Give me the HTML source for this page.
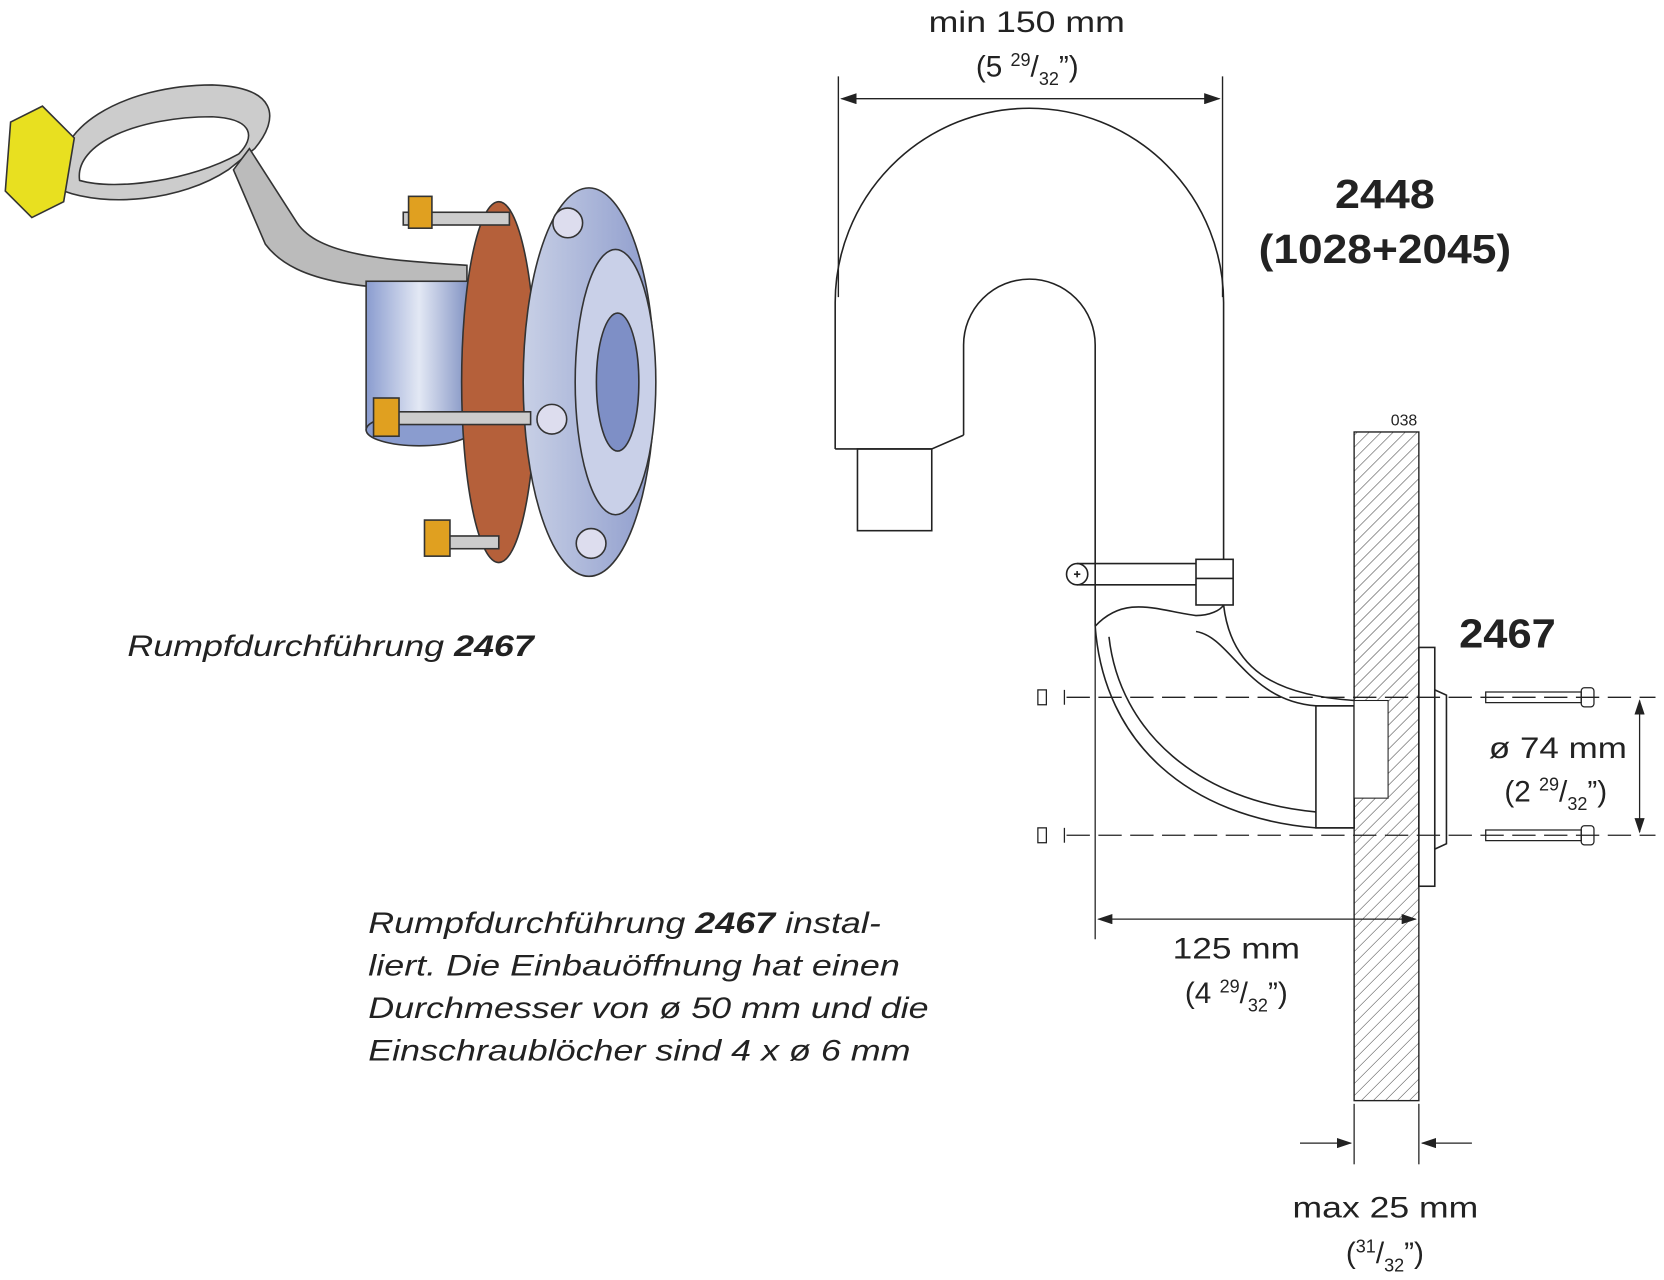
<!DOCTYPE html>
<html><head><meta charset="utf-8"><style>
html,body{margin:0;padding:0;background:#fff;}
svg{display:block;}
text{font-family:"Liberation Sans",sans-serif;fill:#222;}
</style></head><body>
<svg width="1664" height="1280" viewBox="0 0 1568 1206" preserveAspectRatio="none" xmlns="http://www.w3.org/2000/svg">
<defs>
<pattern id="h" width="8" height="8" patternUnits="userSpaceOnUse" patternTransform="rotate(45)">
<line x1="0" y1="0" x2="0" y2="8" stroke="#444" stroke-width="1"/></pattern>
<marker id="a" markerWidth="12" markerHeight="8" refX="11" refY="4" orient="auto"><path d="M0,0 L12,4 L0,8 z" fill="#222"/></marker>
<marker id="b" markerWidth="12" markerHeight="8" refX="1" refY="4" orient="auto"><path d="M12,0 L0,4 L12,8 z" fill="#222"/></marker>
<linearGradient id="g1" x1="0" x2="1"><stop offset="0" stop-color="#8a9ccf"/><stop offset="0.5" stop-color="#e3e8f4"/><stop offset="1" stop-color="#7a8cbf"/></linearGradient>
<linearGradient id="g2" x1="0" x2="1"><stop offset="0" stop-color="#c8d0e6"/><stop offset="1" stop-color="#8e9ccc"/></linearGradient>
</defs>

<g stroke="#333" stroke-width="1.5">
<path d="M60,180 C40,120 120,80 200,80 C260,82 265,110 240,140 L215,160 C170,190 100,195 60,180 Z" fill="#ccc"/>
<path d="M75,170 C70,135 130,110 200,110 C240,112 240,130 225,145 C180,170 110,180 75,170 Z" fill="#fff"/>
<path d="M235,140 L280,210 C300,240 360,245 440,250 L440,275 C350,272 280,270 250,230 L220,160 Z" fill="#bbb"/>
<path d="M10,115 L40,100 L70,130 L60,190 L30,205 L5,180 Z" fill="#e8e020"/>
<rect x="345" y="265" width="100" height="140" fill="url(#g1)"/>
<ellipse cx="395" cy="405" rx="50" ry="15" fill="#8a9ccf"/>
<ellipse cx="470" cy="360" rx="35" ry="170" fill="#b5603a"/>
<ellipse cx="555" cy="360" rx="62" ry="183" fill="url(#g2)"/>
<ellipse cx="580" cy="360" rx="38" ry="125" fill="#c9d0e8"/>
<ellipse cx="582" cy="360" rx="20" ry="65" fill="#7e8fc6"/>
<circle cx="535" cy="210" r="14" fill="#dde"/>
<circle cx="520" cy="395" r="14" fill="#dde"/>
<circle cx="557" cy="512" r="14" fill="#dde"/>
<g fill="#ccc"><rect x="380" y="200" width="100" height="12"/><rect x="370" y="388" width="130" height="12"/><rect x="410" y="505" width="60" height="12"/></g>
<g fill="#e0a020"><rect x="385" y="185" width="22" height="30"/><rect x="352" y="375" width="24" height="36"/><rect x="400" y="490" width="24" height="34"/></g>
</g>

<g font-style="italic" font-size="28">
<text x="120" y="618" textLength="383" lengthAdjust="spacingAndGlyphs">Rumpfdurchführung <tspan font-weight="bold">2467</tspan></text>
<text x="347" y="879" textLength="483" lengthAdjust="spacingAndGlyphs">Rumpfdurchführung <tspan font-weight="bold">2467</tspan> instal-</text>
<text x="347" y="919" textLength="501" lengthAdjust="spacingAndGlyphs">liert. Die Einbauöffnung hat einen</text>
<text x="347" y="959" textLength="528" lengthAdjust="spacingAndGlyphs">Durchmesser von ø 50 mm und die</text>
<text x="347" y="999" textLength="511" lengthAdjust="spacingAndGlyphs">Einschraublöcher sind 4 x ø 6 mm</text>
</g>

<g stroke="#222" stroke-width="1.3" fill="none">
<line x1="790" y1="72" x2="790" y2="280"/>
<line x1="1152" y1="72" x2="1152" y2="280"/>
<line x1="793" y1="93" x2="1149" y2="93" marker-start="url(#b)" marker-end="url(#a)"/>
</g>
<text x="875" y="30" font-size="28" textLength="185" lengthAdjust="spacingAndGlyphs">min 150 mm</text>
<text x="968" y="72" font-size="28" text-anchor="middle">(5 <tspan font-size="17" dy="-10">29</tspan><tspan dy="10">/</tspan><tspan font-size="17" dy="8">32</tspan><tspan dy="-8">”)</tspan></text>

<text x="1258" y="196" font-size="38" font-weight="bold" textLength="94" lengthAdjust="spacingAndGlyphs">2448</text>
<text x="1186" y="248" font-size="38" font-weight="bold" textLength="238" lengthAdjust="spacingAndGlyphs">(1028+2045)</text>

<g stroke="#222" stroke-width="1.5" fill="none">
<path d="M787,423 L787,285 A183,183 0 0 1 1153,285 L1153,527"/>
<path d="M908,410 L908,325 A62,62 0 0 1 1032,325 L1032,590"/>
<path d="M787,423 L878,423 L908,410"/>
<rect x="808" y="423" width="70" height="77"/>
<circle cx="1015" cy="541" r="10"/>
<line x1="1012" y1="541" x2="1018" y2="541"/><line x1="1015" y1="538" x2="1015" y2="544"/>
<path d="M1015,531 L1127,531 M1015,551 L1127,551"/>
<rect x="1127" y="527" width="35" height="43"/>
<line x1="1127" y1="545" x2="1162" y2="545"/>
<path d="M1032,590 C1060,560 1090,575 1127,580 C1140,580 1150,575 1153,570"/>
<path d="M1032,590 C1040,700 1120,770 1240,780 L1276,780"/>
<path d="M1045,600 C1055,690 1130,755 1240,765"/>
<path d="M1127,595 C1160,600 1175,660 1240,665 L1276,665"/>
<path d="M1153,570 C1160,630 1200,655 1276,660"/>
<rect x="1240" y="665" width="36" height="115"/>
</g>

<rect x="1276" y="407" width="61" height="630" fill="url(#h)" stroke="#222" stroke-width="1.3"/>
<rect x="1276" y="660" width="32" height="92" fill="#fff" stroke="#222" stroke-width="1"/>
<text x="1323" y="401" font-size="15" text-anchor="middle">038</text>
<g stroke="#222" stroke-width="1.5" fill="#fff">
<rect x="1337" y="610" width="15" height="225"/>
<path d="M1352,650 L1363,655 L1363,795 L1352,800 Z"/>
</g>
<text x="1375" y="610" font-size="38" font-weight="bold" textLength="91" lengthAdjust="spacingAndGlyphs">2467</text>

<g stroke="#222" stroke-width="1.2" fill="none">
<line x1="1005" y1="657" x2="1560" y2="657" stroke-dasharray="22,8"/>
<line x1="1005" y1="787" x2="1560" y2="787" stroke-dasharray="22,8"/>
<rect x="978" y="650" width="8" height="14"/><line x1="1003" y1="650" x2="1003" y2="664"/>
<rect x="978" y="780" width="8" height="14"/><line x1="1003" y1="780" x2="1003" y2="794"/>
<path d="M1400,652 L1490,652 L1490,662 L1400,662 Z"/><rect x="1490" y="648" width="12" height="18" rx="3"/>
<path d="M1400,782 L1490,782 L1490,792 L1400,792 Z"/><rect x="1490" y="778" width="12" height="18" rx="3"/>
<line x1="1545" y1="660" x2="1545" y2="784" marker-start="url(#b)" marker-end="url(#a)"/>
<line x1="1032" y1="590" x2="1032" y2="885"/>
<line x1="1035" y1="866" x2="1334" y2="866" marker-start="url(#b)" marker-end="url(#a)"/>
<line x1="1276" y1="1040" x2="1276" y2="1097"/>
<line x1="1337" y1="1040" x2="1337" y2="1097"/>
<line x1="1225" y1="1077" x2="1273" y2="1077" marker-end="url(#a)"/>
<line x1="1387" y1="1077" x2="1340" y2="1077" marker-end="url(#a)"/>
</g>
<text x="1403" y="714" font-size="28" textLength="130" lengthAdjust="spacingAndGlyphs">ø 74 mm</text>
<text x="1466" y="755" font-size="28" text-anchor="middle">(2 <tspan font-size="17" dy="-10">29</tspan><tspan dy="10">/</tspan><tspan font-size="17" dy="8">32</tspan><tspan dy="-8">”)</tspan></text>
<text x="1105" y="903" font-size="28" textLength="120" lengthAdjust="spacingAndGlyphs">125 mm</text>
<text x="1165" y="945" font-size="28" text-anchor="middle">(4 <tspan font-size="17" dy="-10">29</tspan><tspan dy="10">/</tspan><tspan font-size="17" dy="8">32</tspan><tspan dy="-8">”)</tspan></text>
<text x="1218" y="1147" font-size="28" textLength="175" lengthAdjust="spacingAndGlyphs">max 25 mm</text>
<text x="1305" y="1190" font-size="28" text-anchor="middle">(<tspan font-size="17" dy="-10">31</tspan><tspan dy="10">/</tspan><tspan font-size="17" dy="8">32</tspan><tspan dy="-8">”)</tspan></text>
</svg>
</body></html>
